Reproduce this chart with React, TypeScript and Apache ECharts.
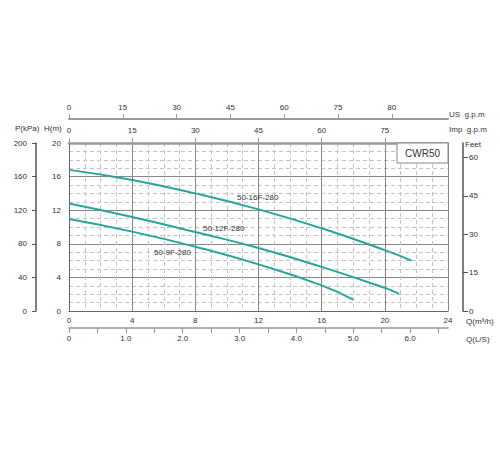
import React, { useEffect, useRef } from "react";
import * as echarts from "echarts";

// Q (m3/h) vs H (m)
const curve16F: number[][] = [[0, 16.8], [4, 15.6], [8, 14.0], [12, 12.1], [16, 9.85], [20, 7.25], [21.7, 6.0]];
const curve12F: number[][] = [[0, 12.8], [4, 11.2], [8, 9.4], [12, 7.5], [16, 5.25], [20, 2.75], [20.9, 2.05]];
const curve9F: number[][] = [[0, 10.95], [4, 9.45], [8, 7.65], [12, 5.55], [16, 3.05], [18, 1.35]];
const seriesNames = ["50-16F-280", "50-12F-280", "50-9F-280"];

const usGpmTicks = [0, 15, 30, 45, 60, 75, 90];
const usGpmLabels = ["0", "15", "30", "45", "60", "75", "80"];
const impGpmTicks = [0, 15, 30, 45, 60, 75];
const lsLabelTicks = [0, 1, 2, 3, 4, 5, 6];
const lsLabels = ["0", "1.0", "2.0", "3.0", "4.0", "5.0", "6.0"];
const lsMinorTicks = [0, 0.5, 1, 1.5, 2, 2.5, 3, 3.5, 4, 4.5, 5, 5.5, 6, 6.5];
const feetTicks = [0, 15, 30, 45, 60];

const Q_MAX = 24;
const H_MAX = 20;

const FONT = "Liberation Sans";
const FS = 8;
const TXT = "#333";
const TEAL = "#26a69a";

export default function App() {
  const ref = useRef<HTMLDivElement>(null);
  useEffect(() => {
    if (!ref.current) return;
    const chart = echarts.init(ref.current, null, { renderer: "svg" });
    const lbl = { fontFamily: FONT, fontSize: FS, color: TXT };
    const t = (text: string, x: number, y: number, extra: any = {}) => ({
      type: "text",
      x,
      y,
      style: { text, fontFamily: FONT, fontSize: FS, fill: TXT, textVerticalAlign: "middle", ...extra },
      z: 100,
    });
    chart.setOption({
      animation: false,
      backgroundColor: "#fff",
      grid: { left: 69, right: 52, top: 143, bottom: 139, containLabel: false },
      xAxis: [
        {
          type: "value",
          position: "bottom",
          min: 0,
          max: Q_MAX,
          interval: 4,
          axisLine: { show: true, lineStyle: { color: "#666", width: 1 } },
          axisTick: { show: false },
          axisLabel: { ...lbl, margin: 5 },
          splitLine: { show: true, lineStyle: { color: "#888", width: 1 } },
          minorTick: { show: false, splitNumber: 4 },
          minorSplitLine: { show: true, lineStyle: { color: "#c4c4c4", type: [4, 3], width: 1 } },
          z: 3,
        },
        {
          type: "value",
          position: "bottom",
          offset: 17,
          min: 0,
          max: Q_MAX / 3.6,
          axisLine: { show: true, onZero: false, lineStyle: { color: "#999", width: 1.5 } },
          axisTick: { show: true, length: 5, customValues: lsMinorTicks, lineStyle: { color: "#999" } },
          axisLabel: {
            ...lbl,
            margin: 6,
            customValues: lsLabelTicks,
            formatter: (v: number) => lsLabels[lsLabelTicks.indexOf(Math.round(v))] ?? "",
          },
          splitLine: { show: false },
        },
        {
          type: "value",
          position: "top",
          min: 0,
          max: 90,
          axisLine: { show: true, onZero: false, lineStyle: { color: "#999", width: 2.5 } },
          axisTick: { show: true, length: 5, customValues: impGpmTicks, lineStyle: { color: "#999" } },
          axisLabel: { ...lbl, margin: 9, customValues: impGpmTicks },
          splitLine: { show: false },
          z: 5,
        },
        {
          type: "value",
          position: "top",
          offset: 24,
          min: 0,
          max: Q_MAX * 4.4029,
          axisLine: { show: true, onZero: false, lineStyle: { color: "#999", width: 2 } },
          axisTick: { show: true, length: 5, customValues: usGpmTicks, lineStyle: { color: "#999" } },
          axisLabel: {
            ...lbl,
            margin: 8,
            customValues: usGpmTicks,
            formatter: (v: number) => usGpmLabels[usGpmTicks.indexOf(Math.round(v))] ?? "",
          },
          splitLine: { show: false },
        },
      ],
      yAxis: [
        {
          type: "value",
          position: "left",
          min: 0,
          max: H_MAX,
          interval: 4,
          axisLine: { show: true, onZero: false, lineStyle: { color: "#666", width: 1 } },
          axisTick: { show: false },
          axisLabel: { ...lbl, margin: 8 },
          splitLine: { show: true, lineStyle: { color: "#888", width: 1 } },
          minorTick: { show: false, splitNumber: 4 },
          minorSplitLine: { show: true, lineStyle: { color: "#c4c4c4", type: [4, 3], width: 1 } },
          z: 3,
        },
        {
          type: "value",
          position: "left",
          offset: 33,
          min: 0,
          max: 200,
          interval: 40,
          axisLine: { show: true, onZero: false, lineStyle: { color: "#555", width: 1.5 } },
          axisTick: { show: true, length: 4, lineStyle: { color: "#555" } },
          axisLabel: { ...lbl, margin: 9 },
          splitLine: { show: false },
        },
        {
          type: "value",
          position: "right",
          offset: 15,
          min: 0,
          max: H_MAX / 0.3048,
          axisLine: { show: true, onZero: false, lineStyle: { color: "#555", width: 1.5 } },
          axisTick: { show: true, length: 5, customValues: feetTicks, lineStyle: { color: "#555" } },
          axisLabel: { ...lbl, margin: 6, customValues: feetTicks },
          splitLine: { show: false },
        },
      ],
      series: [curve16F, curve12F, curve9F].map((d, i) => ({
        name: seriesNames[i],
        type: "line",
        xAxisIndex: 0,
        yAxisIndex: 0,
        data: d,
        smooth: 0.5,
        showSymbol: false,
        lineStyle: { color: TEAL, width: 2 },
        itemStyle: { color: TEAL },
        z: 10,
      })),
      graphic: [
        {
          type: "rect",
          shape: { x: 397, y: 143, width: 51, height: 20 },
          style: { fill: "#fff", stroke: "#888", lineWidth: 1 },
          z: 50,
        },
        t("CWR50", 422.5, 153.5, { fontSize: 10, textAlign: "center" }),
        t(seriesNames[0], 237, 197),
        t(seriesNames[1], 203, 228),
        t(seriesNames[2], 154, 252),
        t("P(kPa)", 15, 128),
        t("H(m)", 44, 128),
        t("US  g.p.m", 449, 114),
        t("Imp  g.p.m", 449, 129),
        t("Feet", 465, 144),
        t("Q(m³/h)", 466, 321),
        t("Q(L/S)", 466, 339),
      ],
    });
    return () => chart.dispose();
  }, []);
  return (
    <div
      ref={ref}
      style={{ position: "fixed", left: 0, top: 0, width: 500, height: 450, background: "#fff" }}
    />
  );
}
